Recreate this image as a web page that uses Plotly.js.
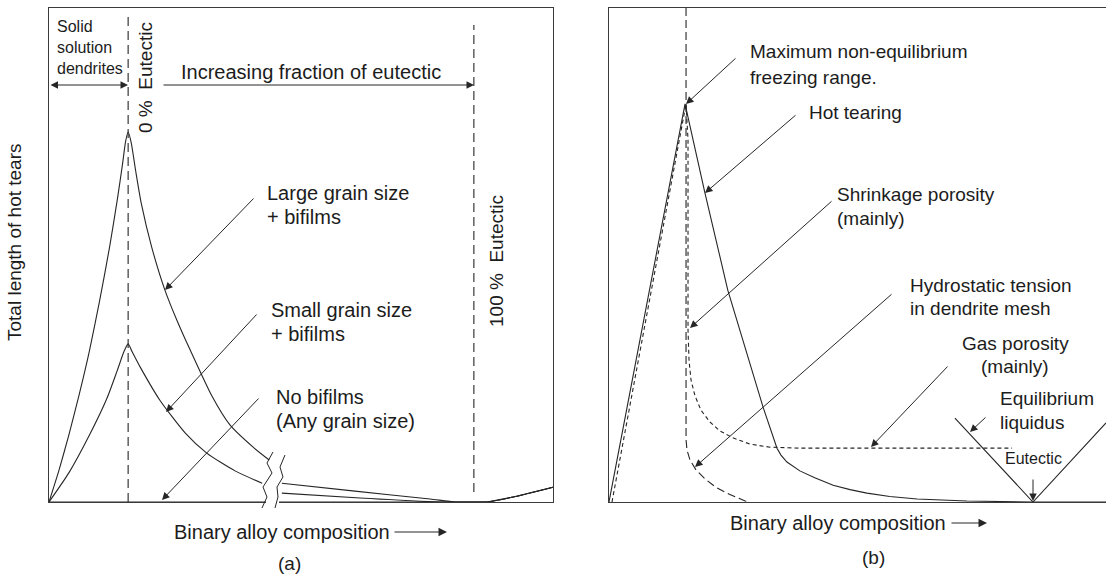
<!DOCTYPE html>
<html>
<head>
<meta charset="utf-8">
<script src="https://cdn.plot.ly/plotly-3.0.1.min.js"></script>
<style>html,body{margin:0;padding:0;background:#fff;}#chart{width:1106px;height:576px;}</style>
</head>
<body>
<div id="chart"></div>
<script>
// ---------- Panel (a): total length of hot tears vs composition ----------
const largeGrainX = [0, 2.0, 4.0, 6.0, 8.0, 10.0, 12.0, 13.6, 14.6, 15.2, 15.7, 16.3, 17.2, 18.3, 20.4, 23.0, 25.5, 28.0, 32.3, 35.9, 40.5, 43.7, null, 46.2, 60.7, 75.6, 80.6, 84.3, 86.9, 92.1, 100];
const largeGrainY = [0, 6.5, 13.8, 21.8, 30.5, 40.5, 51.5, 61.5, 68.5, 73.0, 74.9, 72.8, 67.0, 60.5, 51.5, 42.9, 36.5, 30.8, 21.5, 15.6, 11.1, 8.5, null, 3.8, 2.2, 0.6, 0, 0, 0, 1.0, 3.0];
const smallGrainX = [0, 4.0, 8.0, 11.5, 13.5, 14.9, 15.7, 16.5, 18.1, 22.0, 27.0, 31.3, 36.9, 42.3, null, 46.2, 61.7, 77.6, 84.3, 86.9, 92.1, 100];
const smallGrainY = [0, 6.0, 13.5, 21.0, 26.5, 30.5, 32.0, 30.4, 27.3, 20.6, 14.0, 9.9, 6.3, 3.8, null, 1.8, 0.8, 0, 0, 0, 1.0, 3.0];
const noBifilmsX = [0, 84.3, 86.9, 92.1, 100];
const noBifilmsY = [0, 0, 0, 1.0, 3.0];
const eutecticComp = [15.7, 84.3]; // 0 % and 100 % eutectic

// ---------- Panel (b): defect types vs composition ----------
const hotTearX = [0, 15.3, 19.3, 23.9, 31.0, 33.8, 34.6, 35.8, 38.4, 41.4, 45.1, 48.5, 51.9, 56.5, 62.0, 72.0, 85.3, 100];
const hotTearY = [0, 80.6, 62.6, 42.9, 19.2, 10.9, 9.5, 8.1, 6.3, 4.9, 3.4, 2.5, 1.8, 1.1, 0.6, 0.2, 0, 0];
const porosityX = [0.6, 15.5, 15.9, 15.9, 16.1, 16.5, 17.3, 18.5, 20.3, 22.3, 24.9, 28.4, 32.4, 38.4, 81.1];
const porosityY = [0, 80.6, 73.3, 34.8, 28.7, 24.7, 21.5, 18.6, 16.2, 14.4, 13.0, 11.7, 11.1, 10.9, 10.9];
const hydroX = [15.5, 15.5, 15.7, 16.3, 17.5, 19.3, 21.5, 24.1, 27.4, 28.4];
const hydroY = [100, 12.6, 10.5, 8.5, 6.5, 4.7, 3.0, 1.6, 0.2, 0];
const liquidusX = [69.6, 85.3, 100];
const liquidusY = [17.0, 0, 16.0];

// ---------- layout geometry ----------
const L = 49, T = 8, W = 1057, H = 494;
const px = x => (x - L) / W;
const py = y => (T + H - y) / H;
const INK = '#262626';
const FONT = 'Liberation Sans, Arial, Helvetica, sans-serif';

function line(x, y, xa, ya, dash, shape) {
  return {x: x, y: y, xaxis: xa, yaxis: ya, type: 'scatter', mode: 'lines',
    line: {color: INK, width: 1.1, dash: dash || 'solid', shape: shape || 'linear', smoothing: 0.6},
    connectgaps: false, hoverinfo: 'skip', showlegend: false};
}

const traces = [
  line(noBifilmsX, noBifilmsY, 'x', 'y'),
  line(largeGrainX, largeGrainY, 'x', 'y', 'solid', 'spline'),
  line(smallGrainX, smallGrainY, 'x', 'y', 'solid', 'spline'),
  line(hotTearX, hotTearY, 'x2', 'y2'),
  line(porosityX, porosityY, 'x2', 'y2', '4px,3px'),
  line(hydroX, hydroY, 'x2', 'y2', '8px,4px'),
  line(liquidusX, liquidusY, 'x2', 'y2')
];

function one(x, y, text, opt) {
  return {xref: 'paper', yref: 'paper', x: px(x), y: py(y), text: text, showarrow: false,
    xanchor: opt.xa || 'left', yanchor: 'middle', align: opt.xa === 'center' ? 'center' : 'left',
    textangle: opt.rot || 0,
    font: {family: FONT, size: opt.size || 19, color: '#1c1c1c'}};
}
// multi-line text placed line by line with a given spacing (first line centre at y)
function txt(x, y, lines, opt) {
  opt = opt || {};
  const gap = opt.gap || 24;
  return [].concat(lines).map((t, i) => one(x, y + i * gap, t, opt));
}
function arr(tx, ty, hx, hy, side, size) {
  return {xref: 'paper', yref: 'paper', x: px(hx), y: py(hy), ax: tx - hx, ay: ty - hy,
    text: '', showarrow: true, arrowhead: 2, arrowsize: size || 1.5, arrowwidth: 1,
    arrowcolor: INK, arrowside: side || 'end', standoff: 0, startstandoff: 0};
}

const annotations = [].concat(
  // panel (a)
  txt(55, 26, ['Solid', 'solution', 'dendrites'], {size: 16, gap: 21}),
  [arr(49, 85, 128, 85, 'end+start')],
  txt(179, 72, 'Increasing fraction of eutectic', {size: 20}),
  [arr(162, 85, 474, 85)],
  txt(145, 78, '0 %\u00a0\u00a0Eutectic', {xa: 'center', rot: -90}),
  txt(496, 261, '100 %\u00a0\u00a0Eutectic', {xa: 'center', rot: -90}),
  txt(265, 193, ['Large grain size', '+ bifilms'], {size: 20}),
  [arr(255, 197, 165, 290)],
  txt(269, 310, ['Small grain size', '+ bifilms'], {size: 20}),
  [arr(258, 313, 166, 412)],
  txt(274, 397, ['No bifilms', '(Any grain size)'], {size: 20}),
  [arr(260, 397, 162, 500)],
  txt(14, 242, 'Total length of hot tears', {xa: 'center', rot: -90, size: 19}),
  txt(172, 532, 'Binary alloy composition', {size: 20}),
  [arr(393, 532, 447, 532, 'end', 1.7)],
  txt(289, 563, '(a)', {xa: 'center'}),
  // panel (b)
  txt(748, 52, ['Maximum non-equilibrium', 'freezing range.'], {gap: 25}),
  [arr(737, 57, 686, 104)],
  txt(807, 113, 'Hot tearing'),
  [arr(797, 114, 705, 193)],
  txt(835, 194, ['Shrinkage porosity', '(mainly)']),
  [arr(833, 200, 690, 328)],
  txt(908, 285, ['Hydrostatic tension', 'in dendrite mesh'], {gap: 23}),
  [arr(893, 293, 695, 467)],
  txt(1015, 343, ['Gas porosity', '(mainly)'], {xa: 'center'}),
  [arr(949, 365, 871, 447)],
  txt(998, 398, ['Equilibrium', 'liquidus']),
  [arr(987, 416, 970, 432)],
  txt(1033, 458, 'Eutectic', {xa: 'center', size: 16}),
  [arr(1033, 478, 1033, 501)],
  txt(728, 523, 'Binary alloy composition', {size: 20}),
  [arr(950, 523, 987, 523, 'end', 1.7)],
  txt(873, 557, '(b)', {xa: 'center'})
);

// break marks on panel (a) curves
function pathOf(pts) {
  return pts.map((p, i) => (i ? 'L' : 'M') + px(p[0]).toFixed(5) + ',' + py(p[1]).toFixed(5)).join(' ');
}
const wave1 = [[273,452],[267,463],[272,473],[263,487],[267,497],[262,508]];
const wave2 = [[285,455],[280,467],[283,477],[277,487],[278,497],[275,508]];

const shapes = [
  {type: 'line', xref: 'x', yref: 'paper', x0: eutecticComp[0], x1: eutecticComp[0], y0: py(502), y1: py(12),
   line: {color: INK, width: 1.1, dash: '9px,5px'}},
  {type: 'line', xref: 'x', yref: 'paper', x0: eutecticComp[1], x1: eutecticComp[1], y0: py(492), y1: py(25),
   line: {color: INK, width: 1.1, dash: '9px,5px'}},
  {type: 'rect', xref: 'paper', yref: 'paper', x0: px(266), x1: px(279), y0: py(506), y1: py(499),
   fillcolor: '#ffffff', line: {width: 0}, layer: 'above'},
  {type: 'path', xref: 'paper', yref: 'paper', path: pathOf(wave1), line: {color: INK, width: 1}, layer: 'above'},
  {type: 'path', xref: 'paper', yref: 'paper', path: pathOf(wave2), line: {color: INK, width: 1}, layer: 'above'}
];

const axBase = {range: [0, 100], showgrid: false, zeroline: false, showticklabels: false, ticks: '',
  showline: true, mirror: true, linecolor: '#3a3a3a', linewidth: 1, fixedrange: true};

const layout = {
  width: 1106, height: 576,
  margin: {l: L, r: 0, t: T, b: 576 - T - H, pad: 0},
  paper_bgcolor: '#ffffff', plot_bgcolor: '#ffffff',
  showlegend: false,
  font: {family: FONT, color: '#1c1c1c'},
  xaxis: Object.assign({}, axBase, {domain: [0, px(553)], anchor: 'y'}),
  yaxis: Object.assign({}, axBase, {domain: [0, 1], anchor: 'x'}),
  xaxis2: Object.assign({}, axBase, {domain: [px(609), 1], anchor: 'y2'}),
  yaxis2: Object.assign({}, axBase, {domain: [0, 1], anchor: 'x2'}),
  annotations: annotations,
  shapes: shapes
};

Plotly.newPlot('chart', traces, layout, {staticPlot: true, displayModeBar: false});
</script>
</body>
</html>
